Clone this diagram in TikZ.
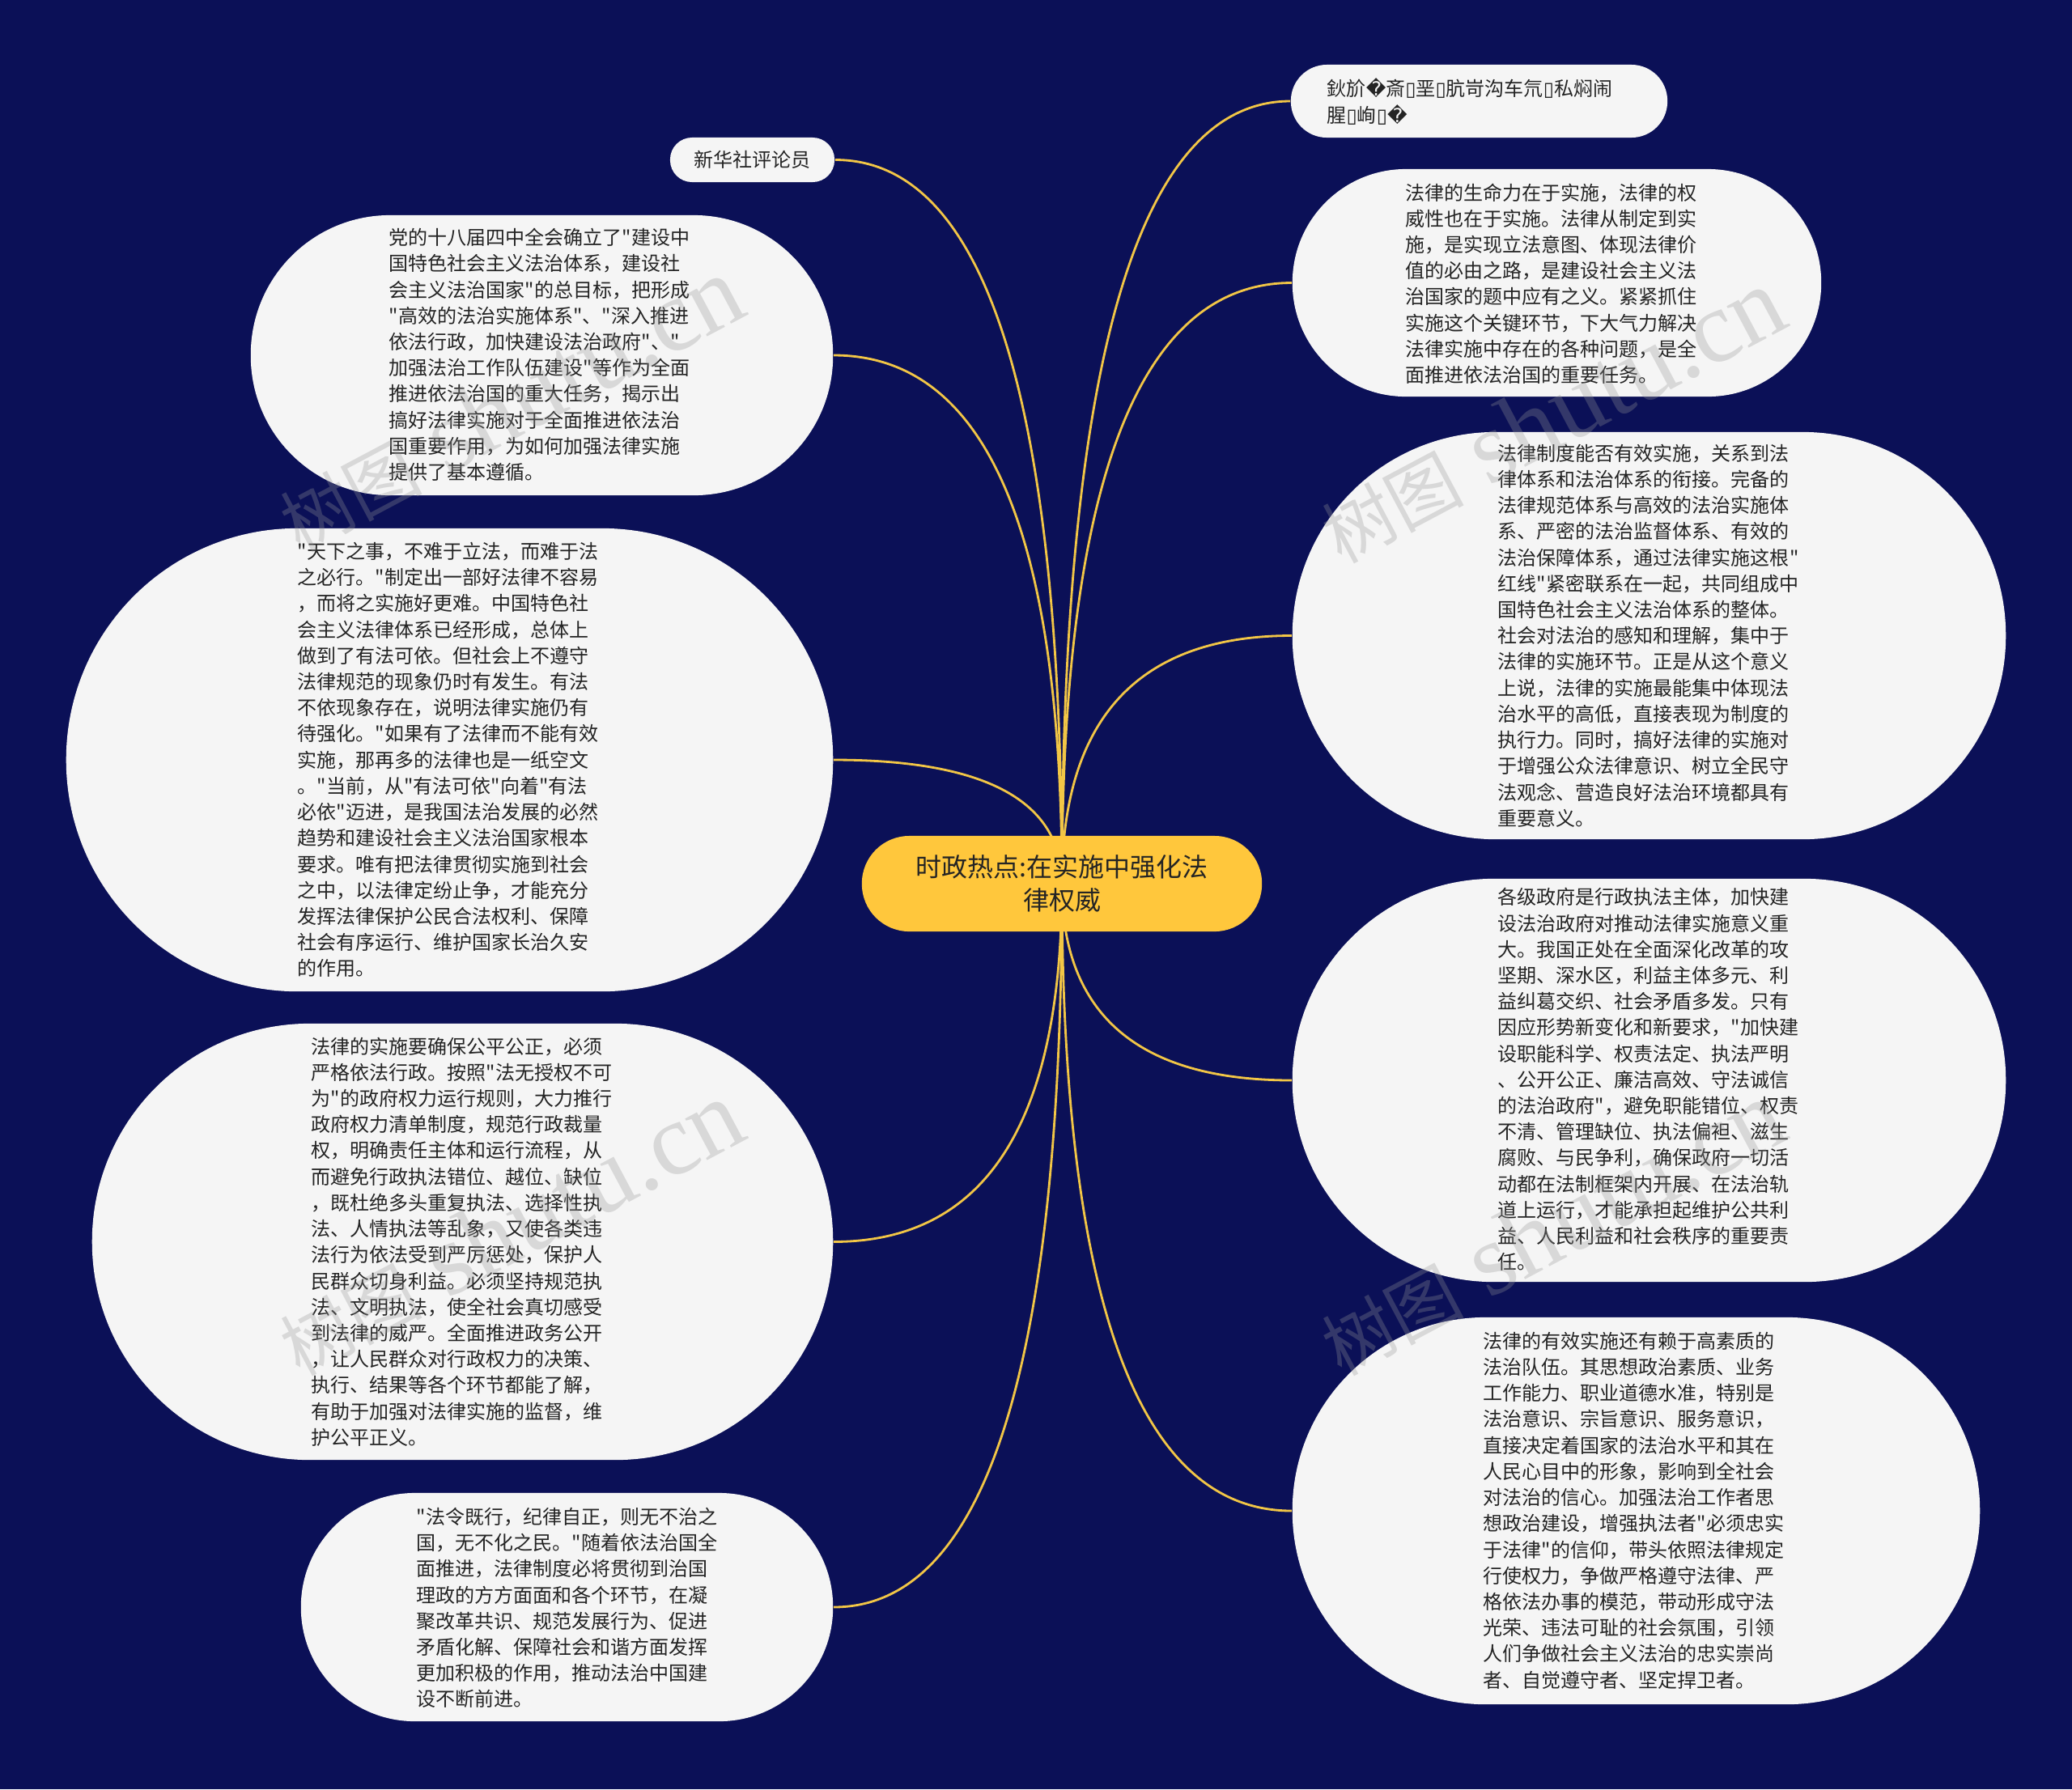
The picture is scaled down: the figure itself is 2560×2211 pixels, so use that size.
\documentclass[tikz,border=0pt]{standalone}
\usepackage{fontspec}
\newfontfamily\cjk{Noto Sans CJK SC}
\newfontfamily\dejavu{DejaVu Sans}
\newfontfamily\wmlat{Liberation Serif}
\usetikzlibrary{calc}
\definecolor{bgnavy}{RGB}{11,16,87}
\definecolor{leaffill}{RGB}{245,245,245}
\definecolor{rootfill}{RGB}{255,199,60}
\definecolor{linkcol}{RGB}{242,198,70}
\definecolor{txt}{RGB}{36,36,36}
\definecolor{wmgray}{RGB}{150,150,150}
\pgfdeclarelayer{bg}
\pgfsetlayers{bg,main}
\newcommand{\mmlink}[2]{\draw[conn] (n0.center) .. controls ($(n0.center)!0.6667!(n0.center |- #1.#2)$) and ($(#1.#2)!0.6667!(n0.center |- #1.#2)$) .. (#1.#2);}
\newcommand{\tofu}{{\dejavu ▯}}
\newcommand{\repl}{{\dejavu �}}
\newcommand{\wmtext}{{\cjk\fontsize{25pt}{25pt}\selectfont 树图}\hspace{0.3cm}{\wmlat\fontsize{36pt}{36pt}\selectfont shutu.cn}}
\begin{document}
\begin{tikzpicture}[x=0.01cm,y=-0.01cm,
  leaf/.style={fill=leaffill, draw=none, inner sep=0pt},
  root/.style={fill=rootfill, draw=none, inner sep=0pt, align=center, text=txt, font=\cjk\fontsize{9.1pt}{11.7pt}\selectfont},
  body/.style={anchor=west, align=left, inner sep=0pt, text=txt, font=\cjk\fontsize{6.83pt}{9.16pt}\selectfont},
  conn/.style={draw=linkcol, line width=0.8pt},
  wm/.style={text opacity=0.3, text=wmgray, inner sep=0pt, rotate=28}
]
\useasboundingbox (0,0) rectangle (2560,2211);

% root
\node[root, minimum width=4.94cm, minimum height=1.18cm, rounded corners=0.585cm] (n0) at (1312,1092) {时政热点:在实施中强化法\\律权威};

% left side (right-aligned at x=1029)
\node[leaf, minimum width=2.03cm, minimum height=0.55cm, rounded corners=0.27cm, text=txt, font=\cjk\fontsize{6.83pt}{9.16pt}\selectfont] (a) at (929.5,197.5) {新华社评论员};
\node[leaf, minimum width=7.19cm, minimum height=3.46cm, rounded corners=1.72cm] (b) at (669.5,439) {};
\node[leaf, minimum width=9.47cm, minimum height=5.72cm, rounded corners=2.855cm] (c) at (555.5,939) {};
\node[leaf, minimum width=9.15cm, minimum height=5.39cm, rounded corners=2.69cm] (d) at (571.5,1534.5) {};
\node[leaf, minimum width=6.57cm, minimum height=2.82cm, rounded corners=1.405cm] (e) at (700.5,1986) {};

% right side (left-aligned at x=1597)
\node[leaf, minimum width=4.65cm, minimum height=0.90cm, rounded corners=0.445cm] (f) at (1827.5,125) {};
\node[leaf, minimum width=6.53cm, minimum height=2.81cm, rounded corners=1.40cm] (g) at (1923.5,349.5) {};
\node[leaf, minimum width=8.81cm, minimum height=5.03cm, rounded corners=2.51cm] (h) at (2037.5,785.5) {};
\node[leaf, minimum width=8.81cm, minimum height=4.98cm, rounded corners=2.485cm] (i) at (2037.5,1335) {};
\node[leaf, minimum width=8.49cm, minimum height=4.78cm, rounded corners=2.385cm] (j) at (2021.5,1867) {};

% texts
\node[body] (bt) at (480,438.5) {党的十八届四中全会确立了"建设中\\国特色社会主义法治体系，建设社\\会主义法治国家"的总目标，把形成\\"高效的法治实施体系"、"深入推进\\依法行政，加快建设法治政府"、"\\加强法治工作队伍建设"等作为全面\\推进依法治国的重大任务，揭示出\\搞好法律实施对于全面推进依法治\\国重要作用，为如何加强法律实施\\提供了基本遵循。};

\node[body] (ct) at (367,939) {"天下之事，不难于立法，而难于法\\之必行。"制定出一部好法律不容易\\，而将之实施好更难。中国特色社\\会主义法律体系已经形成，总体上\\做到了有法可依。但社会上不遵守\\法律规范的现象仍时有发生。有法\\不依现象存在，说明法律实施仍有\\待强化。"如果有了法律而不能有效\\实施，那再多的法律也是一纸空文\\。"当前，从"有法可依"向着"有法\\必依"迈进，是我国法治发展的必然\\趋势和建设社会主义法治国家根本\\要求。唯有把法律贯彻实施到社会\\之中，以法律定纷止争，才能充分\\发挥法律保护公民合法权利、保障\\社会有序运行、维护国家长治久安\\的作用。};

\node[body] (dt) at (384,1534.5) {法律的实施要确保公平公正，必须\\严格依法行政。按照"法无授权不可\\为"的政府权力运行规则，大力推行\\政府权力清单制度，规范行政裁量\\权，明确责任主体和运行流程，从\\而避免行政执法错位、越位、缺位\\，既杜绝多头重复执法、选择性执\\法、人情执法等乱象，又使各类违\\法行为依法受到严厉惩处，保护人\\民群众切身利益。必须坚持规范执\\法、文明执法，使全社会真切感受\\到法律的威严。全面推进政务公开\\，让人民群众对行政权力的决策、\\执行、结果等各个环节都能了解，\\有助于加强对法律实施的监督，维\\护公平正义。};

\node[body] (et) at (514,1987) {"法令既行，纪律自正，则无不治之\\国，无不化之民。"随着依法治国全\\面推进，法律制度必将贯彻到治国\\理政的方方面面和各个环节，在凝\\聚改革共识、规范发展行为、促进\\矛盾化解、保障社会和谐方面发挥\\更加积极的作用，推动法治中国建\\设不断前进。};

\node[body] (ft) at (1639,125.5) {鈥斺\repl 斎\tofu 垩\tofu 肮岢沟车氘\tofu 私焖闹\\腥\tofu 峋\tofu\repl};

\node[body] (gt) at (1736,350.5) {法律的生命力在于实施，法律的权\\威性也在于实施。法律从制定到实\\施，是实现立法意图、体现法律价\\值的必由之路，是建设社会主义法\\治国家的题中应有之义。紧紧抓住\\实施这个关键环节，下大气力解决\\法律实施中存在的各种问题，是全\\面推进依法治国的重要任务。};

\node[body] (ht) at (1850,785.5) {法律制度能否有效实施，关系到法\\律体系和法治体系的衔接。完备的\\法律规范体系与高效的法治实施体\\系、严密的法治监督体系、有效的\\法治保障体系，通过法律实施这根"\\红线"紧密联系在一起，共同组成中\\国特色社会主义法治体系的整体。\\社会对法治的感知和理解，集中于\\法律的实施环节。正是从这个意义\\上说，法律的实施最能集中体现法\\治水平的高低，直接表现为制度的\\执行力。同时，搞好法律的实施对\\于增强公众法律意识、树立全民守\\法观念、营造良好法治环境都具有\\重要意义。};

\node[body] (it) at (1850,1334) {各级政府是行政执法主体，加快建\\设法治政府对推动法律实施意义重\\大。我国正处在全面深化改革的攻\\坚期、深水区，利益主体多元、利\\益纠葛交织、社会矛盾多发。只有\\因应形势新变化和新要求，"加快建\\设职能科学、权责法定、执法严明\\、公开公正、廉洁高效、守法诚信\\的法治政府"，避免职能错位、权责\\不清、管理缺位、执法偏袒、滋生\\腐败、与民争利，确保政府一切活\\动都在法制框架内开展、在法治轨\\道上运行，才能承担起维护公共利\\益、人民利益和社会秩序的重要责\\任。};

\node[body] (jt) at (1832,1866.5) {法律的有效实施还有赖于高素质的\\法治队伍。其思想政治素质、业务\\工作能力、职业道德水准，特别是\\法治意识、宗旨意识、服务意识，\\直接决定着国家的法治水平和其在\\人民心目中的形象，影响到全社会\\对法治的信心。加强法治工作者思\\想政治建设，增强执法者"必须忠实\\于法律"的信仰，带头依照法律规定\\行使权力，争做严格遵守法律、严\\格依法办事的模范，带动形成守法\\光荣、违法可耻的社会氛围，引领\\人们争做社会主义法治的忠实崇尚\\者、自觉遵守者、坚定捍卫者。};

% watermarks
\node[wm] (wm1) at (630,500) {\wmtext};
\node[wm] (wm2) at (1917,514) {\wmtext};
\node[wm] (wm3) at (630,1518) {\wmtext};
\node[wm] (wm4) at (1917,1518) {\wmtext};

\begin{pgfonlayer}{bg}
\fill[bgnavy] (0,0) rectangle (2560,2211);
\mmlink{a}{east}
\mmlink{b}{east}
\mmlink{c}{east}
\mmlink{d}{east}
\mmlink{e}{east}
\mmlink{f}{west}
\mmlink{g}{west}
\mmlink{h}{west}
\mmlink{i}{west}
\mmlink{j}{west}
\end{pgfonlayer}
\end{tikzpicture}
\end{document}
